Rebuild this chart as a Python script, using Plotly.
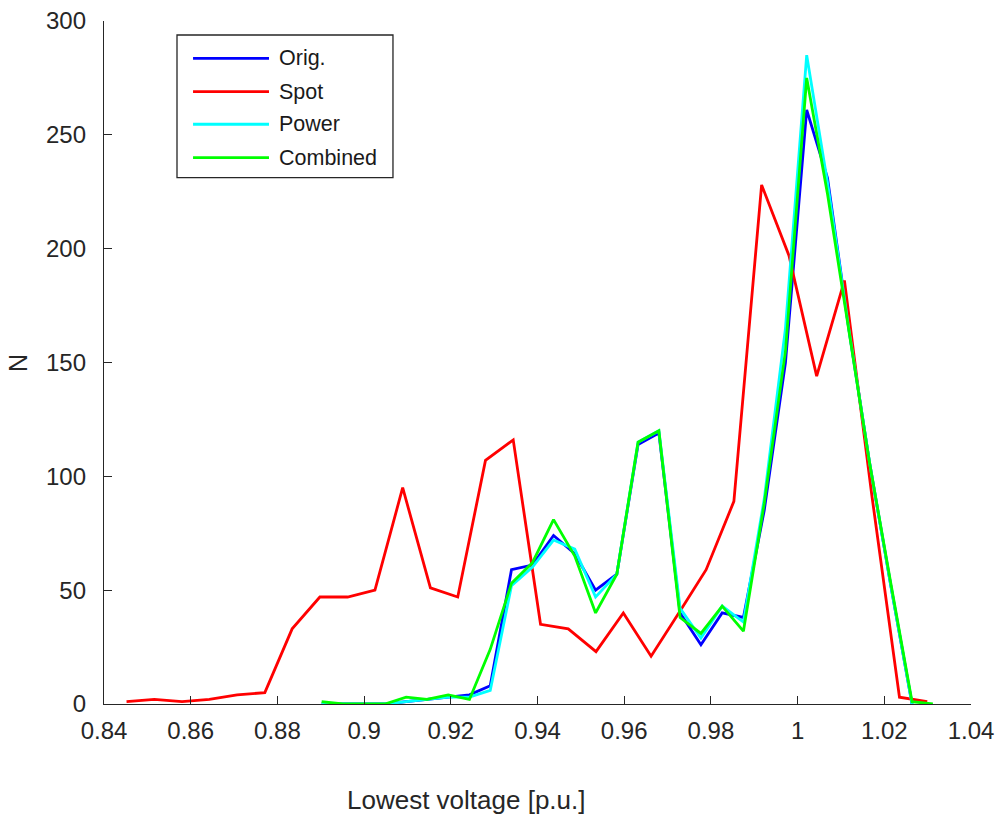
import plotly.graph_objects as go

# Bin centres (lowest voltage, p.u.)
spot_v = [0.8452, 0.8516, 0.8580, 0.8643, 0.8707, 0.8771, 0.8834, 0.8898, 0.8962, 0.9025,
          0.9089, 0.9153, 0.9216, 0.9280, 0.9344, 0.9407, 0.9471, 0.9535, 0.9598, 0.9662,
          0.9726, 0.9789, 0.9853, 0.9917, 0.9980, 1.0044, 1.0108, 1.0171, 1.0235, 1.0299]
grid_v = [0.8902, 0.8951, 0.8999, 0.9048, 0.9097, 0.9145, 0.9194, 0.9243, 0.9291, 0.9340,
          0.9388, 0.9437, 0.9486, 0.9534, 0.9583, 0.9632, 0.9680, 0.9729, 0.9777, 0.9826,
          0.9875, 0.9923, 0.9972, 1.0021, 1.0069, 1.0118, 1.0166, 1.0215, 1.0264, 1.0312]

# Counts per bin
orig_n = [0, 0, 0, 0, 1, 2, 3, 4, 8, 59, 61, 74, 66, 50, 57, 114, 119, 40, 26, 40,
          38, 85, 150, 261, 231, 165, 106, 52, 0]
spot_n = [1, 2, 1, 2, 4, 5, 33, 47, 47, 50, 95, 51, 47, 107, 116, 35, 33, 23, 40, 21,
          40, 59, 89, 228, 197, 144, 186, 92, 3, 1]
power_n = [0, 0, 0, 0, 1, 2, 3, 3, 6, 52, 60, 72, 68, 47, 57, 115, 120, 42, 29, 43,
           36, 90, 165, 285, 229, 165, 106, 52, 0]
combined_n = [1, 0, 0, 0, 3, 2, 4, 2, 24, 53, 62, 81, 65, 40, 57, 115, 120, 38, 31, 43,
              32, 88, 155, 275, 224, 164, 106, 53, 1, 0]

x_ticks = [0.84, 0.86, 0.88, 0.90, 0.92, 0.94, 0.96, 0.98, 1.00, 1.02, 1.04]
x_tick_text = ["0.84", "0.86", "0.88", "0.9", "0.92", "0.94", "0.96", "0.98", "1", "1.02", "1.04"]
y_ticks = [0, 50, 100, 150, 200, 250, 300]

series_names = ["Orig.", "Spot", "Power", "Combined"]
series_colors = ["#0000FF", "#FF0000", "#00FFFF", "#00FF00"]

FONT = "Liberation Sans, Arial, sans-serif"
INK = "#262626"
LW = 2.8

fig = go.Figure()
series = [(grid_v[:len(orig_n)], orig_n), (spot_v, spot_n),
          (grid_v[:len(power_n)], power_n), (grid_v, combined_n)]
for (xs, ys), name, color in zip(series, series_names, series_colors):
    fig.add_trace(go.Scatter(x=xs, y=ys, mode="lines", name=name,
                             line=dict(color=color, width=LW), showlegend=False))

axis_common = dict(showline=True, linecolor=INK, linewidth=1.3, ticks="inside",
                   ticklen=8, tickwidth=1.3, tickcolor=INK, showgrid=False,
                   zeroline=False, mirror=False, automargin=False,
                   tickfont=dict(family=FONT, size=24, color=INK))

fig.update_layout(
    width=999, height=817,
    margin=dict(l=104, r=28, t=21, b=113),
    paper_bgcolor="white", plot_bgcolor="white",
    xaxis=dict(range=[0.84, 1.04], tickvals=x_ticks, ticktext=x_tick_text,
               ticklabelstandoff=5, **axis_common),
    yaxis=dict(range=[0, 300], tickvals=y_ticks, ticklabelstandoff=12, **axis_common),
    showlegend=False,
)

# Axis titles
fig.add_annotation(text="Lowest voltage [p.u.]", xref="paper", yref="paper",
                   x=0.4175, y=-0.1406, showarrow=False, xanchor="center", yanchor="middle",
                   font=dict(family=FONT, size=26, color=INK))
fig.add_annotation(text="N", xref="paper", yref="paper", x=-0.0992, y=0.4993,
                   showarrow=False, textangle=-90, xanchor="center", yanchor="middle",
                   font=dict(family=FONT, size=25, color=INK))

# Legend box with long line samples
box_x0, box_x1, box_y0, box_y1 = 0.0842, 0.3333, 0.7706, 0.9795
fig.add_shape(type="rect", xref="paper", yref="paper", x0=box_x0, x1=box_x1,
              y0=box_y0, y1=box_y1, line=dict(color=INK, width=1.3),
              fillcolor="white", layer="above")
entry_y = [0.9454, 0.8965, 0.8488, 0.7999]
for name, color, ey in zip(series_names, series_colors, entry_y):
    fig.add_shape(type="line", xref="paper", yref="paper", x0=0.1027, x1=0.1903,
                  y0=ey, y1=ey, line=dict(color=color, width=LW), layer="above")
    fig.add_annotation(text=name, xref="paper", yref="paper", x=0.1995, y=ey,
                       showarrow=False, xanchor="left", yanchor="middle",
                       font=dict(family=FONT, size=21.5, color="#1a1a1a"))

fig.write_html("out.html")
